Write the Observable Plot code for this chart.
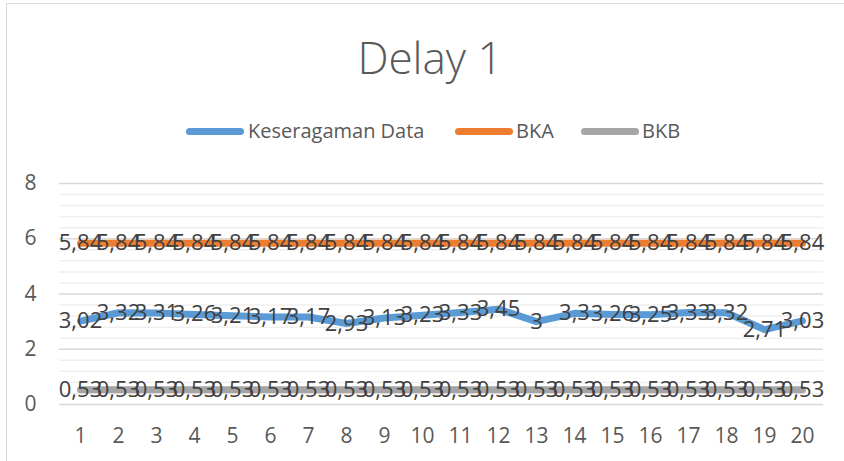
<!DOCTYPE html>
<html>
<head>
<meta charset="utf-8">
<script src="https://cdn.jsdelivr.net/npm/d3@7"></script>
<script src="https://cdn.jsdelivr.net/npm/@observablehq/plot@0.6"></script>
<style>
  html, body { margin: 0; padding: 0; background: #fff; overflow: hidden; }
  #wrap { position: relative; width: 844px; height: 461px; overflow: hidden; font-family: "Open Sans", sans-serif; background: #fff; }
  #frame { position: absolute; left: 6px; top: 3px; width: 900px; height: 520px; border: 1.5px solid #d9d9d9; box-sizing: border-box; }
  #title { position: absolute; left: 0; width: 860px; top: 35px; text-align: center; font-size: 44px; line-height: 44px; font-weight: 300; color: #595959; white-space: nowrap; }
  .leg { position: absolute; top: 0; height: 0; }
  .sw { position: absolute; top: 128px; width: 58px; height: 7px; border-radius: 4px; }
  .lt { position: absolute; top: 121px; font-size: 20px; line-height: 20px; color: #595959; white-space: nowrap; }
  #chart { position: absolute; left: 0; top: 160px; }
</style>
</head>
<body>
<div id="wrap">
  <div id="frame"></div>
  <div id="title">Delay 1</div>
  <div id="legend"></div>
  <div id="chart"></div>
</div>
<script>
const categories = [1, 2, 3, 4, 5, 6, 7, 8, 9, 10, 11, 12, 13, 14, 15, 16, 17, 18, 19, 20];
const keseragaman = [3.02, 3.32, 3.31, 3.26, 3.21, 3.17, 3.17, 2.93, 3.13, 3.23, 3.33, 3.45, 3, 3.3, 3.26, 3.25, 3.33, 3.32, 2.71, 3.03];
const bka = [5.84, 5.84, 5.84, 5.84, 5.84, 5.84, 5.84, 5.84, 5.84, 5.84, 5.84, 5.84, 5.84, 5.84, 5.84, 5.84, 5.84, 5.84, 5.84, 5.84];
const bkb = [0.53, 0.53, 0.53, 0.53, 0.53, 0.53, 0.53, 0.53, 0.53, 0.53, 0.53, 0.53, 0.53, 0.53, 0.53, 0.53, 0.53, 0.53, 0.53, 0.53];
const seriesNames = ["Keseragaman Data", "BKA", "BKB"];
const seriesColors = ["#5B9BD5", "#ED7D31", "#A5A5A5"];
const yTicks = [0, 2, 4, 6, 8];
const yMinor = [0.4, 0.8, 1.2, 1.6, 2.4, 2.8, 3.2, 3.6, 4.4, 4.8, 5.2, 5.6, 6.4, 6.8, 7.2, 7.6];

const seriesValues = [keseragaman, bka, bkb];
const rows = seriesValues.flatMap((vals, s) =>
  categories.map((c, i) => ({ cat: c, value: vals[i], series: seriesNames[s], color: seriesColors[s] }))
);
const fmt = v => String(v).replace(".", ",");

// legend
const legendPos = [[186, 248], [455, 516], [581, 642]];
const legend = document.getElementById("legend");
seriesNames.forEach((name, i) => {
  const sw = document.createElement("div");
  sw.className = "sw";
  sw.style.left = legendPos[i][0] + "px";
  sw.style.background = seriesColors[i];
  const t = document.createElement("div");
  t.className = "lt";
  t.style.left = legendPos[i][1] + "px";
  t.textContent = name;
  legend.appendChild(sw);
  legend.appendChild(t);
});

const chart = Plot.plot({
  width: 844,
  height: 301,
  marginTop: 23,
  marginBottom: 57,
  marginLeft: 59,
  marginRight: 21,
  style: { fontFamily: "'Open Sans', sans-serif", color: "#595959", background: "transparent", overflow: "visible" },
  x: { type: "point", domain: categories, padding: 0.5 },
  y: { domain: [0, 8] },
  marks: [
    Plot.ruleY(yMinor, { stroke: "#efefef", strokeWidth: 1.5 }),
    Plot.ruleY(yTicks, { stroke: "#d9d9d9", strokeWidth: 1.5 }),
    Plot.axisY({ ticks: yTicks, tickSize: 0, tickPadding: 23, fontSize: 21, textAnchor: "middle", dx: -6, label: null }),
    Plot.axisX({ tickSize: 0, tickPadding: 24, fontSize: 21, label: null }),
    ...seriesNames.map((name, s) =>
      Plot.line(rows.filter(d => d.series === name), {
        x: "cat", y: "value", stroke: seriesColors[s], strokeWidth: 7,
        strokeLinejoin: "round", strokeLinecap: "round", curve: "linear"
      })
    ),
    Plot.text(rows, {
      x: "cat", y: "value", text: d => fmt(d.value),
      fill: "#404040", fontSize: 22, textAnchor: "middle", lineAnchor: "middle"
    })
  ]
});
document.getElementById("chart").appendChild(chart);
</script>
</body>
</html>
